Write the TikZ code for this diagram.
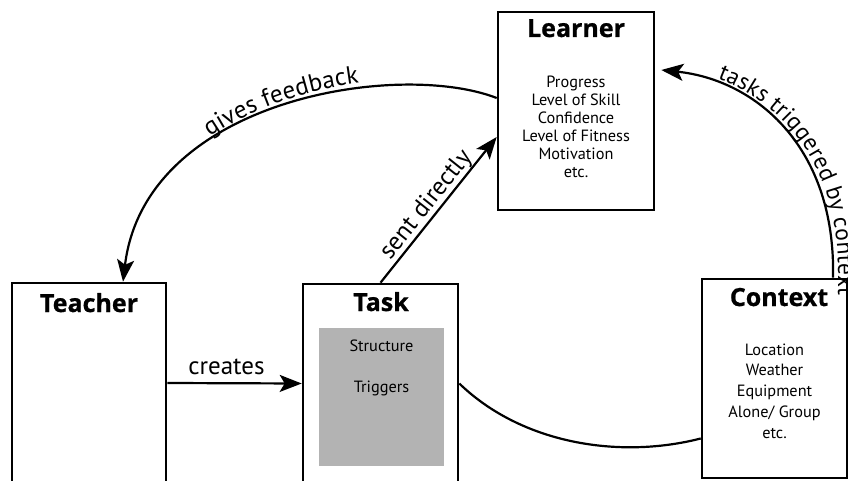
\documentclass[tikz,border=0pt]{standalone}
\usepackage{fontspec}
\setmainfont{PT Sans}
\newfontfamily\cxheadfont{Open Sans}[BoldFeatures={FakeBold=0.8}]
\usetikzlibrary{arrows.meta,decorations.text}
\definecolor{panelgray}{RGB}{179,179,179}
\newcommand\cxlabelfont{\fontsize{25}{29}\selectfont}
\newcommand\cxsidefont{\fontsize{23.5}{28}\selectfont}

\begin{document}
\begin{tikzpicture}[x=1pt,y=1pt,
  box/.style={draw, line width=2.6pt, rectangle, inner sep=0pt},
  boxtitle/.style={font=\cxheadfont\fontsize{25}{29}\selectfont\bfseries, inner sep=0pt, anchor=base},
  boxtext/.style={font=\fontsize{16.3}{18}\selectfont, align=center, inner sep=0pt},
  connector/.style={line width=2.2pt, -{Stealth[length=22pt,width=17pt,inset=5pt]}},
  edgelabel/.style={font=\cxlabelfont, inner sep=1pt},
]
\useasboundingbox (0,0) rectangle (848,480);

% boxes
\node[box, minimum width=154pt, minimum height=200pt] (teacher) at (89,97) {};
\node[box, minimum width=155pt, minimum height=199pt] (task) at (380.5,96.5) {};
\node[fill=panelgray, minimum width=125pt, minimum height=138pt, inner sep=0pt] (taskpanel) at (381.5,83) {};
\node[box, minimum width=156pt, minimum height=198pt] (learner) at (576,369) {};
\node[box, minimum width=145pt, minimum height=199pt] (context) at (774.5,101.5) {};

% titles
\node[boxtitle] (teacherhead) at (89,168) {Teacher};
\node[boxtitle] (taskhead) at (381,169) {Task};
\node[boxtitle] (learnerhead) at (576,443) {Learner};
\node[boxtitle] (contexthead) at (779,174) {Context};

% box contents
\node[boxtext, anchor=base] (structure) at (381.5,129) {Structure};
\node[boxtext, anchor=base] (triggers) at (381.5,88) {Triggers};
\node[boxtext] (learnerlist) at (576,353) {Progress\\Level of Skill\\Confidence\\Level of Fitness\\Motivation\\etc.};
\node[boxtext, font=\fontsize{16.3}{20.8}\selectfont] (contextlist) at (774.5,89) {Location\\Weather\\Equipment\\Alone/ Group\\etc.};

% teacher creates task
\draw[connector] (teacher.east) -- (task.west)
  node[edgelabel, pos=0.44, above=6pt] (createslabel) {creates};

% task sent directly to learner
\draw[connector] (task.north) -- ([yshift=-26pt]learner.west)
  node[edgelabel, pos=0.48, sloped, above, inner sep=0pt] (sentlabel) {sent directly};

% learner gives feedback to teacher
\draw[connector] ([yshift=13pt]learner.west) .. controls +(-98,38) and +(22,183) .. ([xshift=34pt]teacher.north);
\path[decorate, decoration={text along path, text={|\cxlabelfont|gives feedback}, text align={left, left indent=172pt}, raise=5pt}]
  ([xshift=34pt]teacher.north) .. controls +(22,183) and +(-98,38) .. ([yshift=13pt]learner.west);

% context triggers tasks for learner
\draw[connector] ([xshift=58.5pt]context.north) .. controls +(3,130) and +(95,-10) .. ([xshift=6pt,yshift=41pt]learner.east);
\path[decorate, decoration={text along path, text={|\cxsidefont|tasks triggered by context}, text align={left, left indent=56pt}, raise=5pt}]
  ([xshift=6pt,yshift=41pt]learner.east) .. controls +(95,-10) and +(3,130) .. ([xshift=58.5pt]context.north) -- ++(0,-80);

% task linked with context
\draw[line width=2.2pt] (task.east) .. controls +(62,-60) and +(-82,-21) .. ([yshift=-60pt]context.west);
\end{tikzpicture}
\end{document}
